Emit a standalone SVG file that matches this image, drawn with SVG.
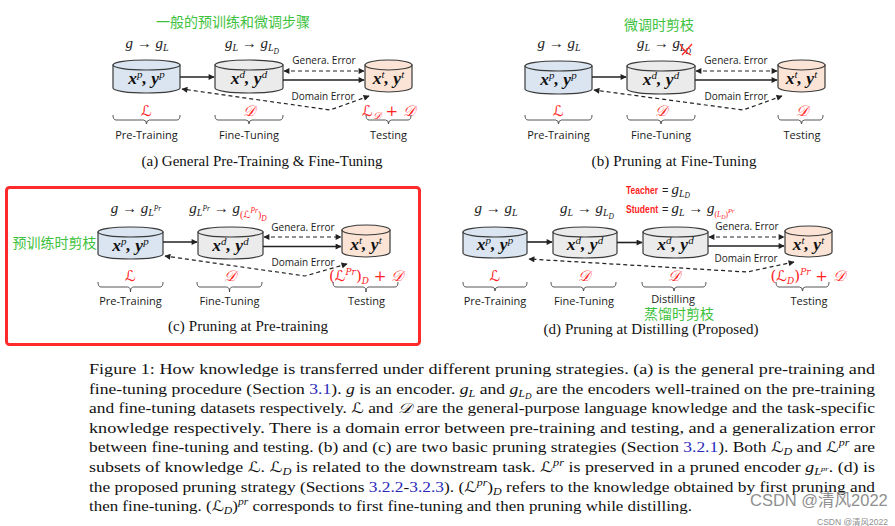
<svg xmlns="http://www.w3.org/2000/svg" width="895" height="526" viewBox="0 0 895 526">
<defs>
<style>
.zh{font-family:"Noto Sans CJK SC","Noto Sans",sans-serif;font-size:14px;fill:#3ec23e}
.lab{font-family:"Open Sans","Liberation Sans",sans-serif;font-size:11px;fill:#1a1a1a;text-anchor:middle}
.err{font-family:"Open Sans","Liberation Sans",sans-serif;font-size:10px;fill:#1a1a1a;text-anchor:middle}
.m{font-family:"Liberation Serif",serif;font-style:italic;font-size:15px;fill:#222}
.sb{font-size:10px}
.sbb{font-size:7.5px}
.cyt{font-family:"Liberation Serif",serif;font-weight:bold;font-style:italic;font-size:17.5px;fill:#111;text-anchor:middle}
.cs{font-size:11px;font-weight:normal}
.red{fill:#ff2222}
.sc{font-family:"DejaVu Serif","DejaVu Sans",serif;font-style:italic}
.rl{font-family:"DejaVu Serif","DejaVu Sans",serif;font-style:italic;font-size:15px;fill:#ff2222;text-anchor:middle}
.up{font-style:normal}
.cap{font-family:"Liberation Serif",serif;font-size:15px;fill:#111;text-anchor:middle}
.par{font-family:"Liberation Serif",serif;font-size:14.5px;fill:#111}
.i{font-style:italic}
.lnk{fill:#2a2ab8}
.cyl{stroke:#3a3a3a;stroke-width:1.2}
.blue{fill:#dae5f1}
.grey{fill:#ebebeb}
.peach{fill:#fbe4d5}
.solid{stroke:#222;stroke-width:1.6;fill:none}
.dash{stroke:#222;stroke-width:1.2;stroke-dasharray:4 3;fill:none}
.brace{stroke:#444;stroke-width:0.9;fill:none}
.tb{font-family:"Liberation Sans",sans-serif;font-weight:bold;font-size:10px;fill:#ff2222}
.eq{font-family:"Liberation Sans",sans-serif;font-size:11px;fill:#222;font-style:normal}
.wm{font-family:"Liberation Sans","Noto Sans CJK SC",sans-serif;fill:#8f8f8f}
</style>
<marker id="ah" viewBox="0 0 10 10" refX="9" refY="5" markerWidth="7" markerHeight="6" markerUnits="userSpaceOnUse" orient="auto-start-reverse"><path d="M0,0 L10,5 L0,10 z" fill="#222"/></marker>
</defs>
<rect width="895" height="526" fill="#fff"/>

<!-- Panel (a) -->
<g id="panel-a">
  <text class="zh" x="233" y="27" text-anchor="middle">一般的预训练和微调步骤</text>
  <text class="m" x="147" y="48" text-anchor="middle">g → g<tspan class="sb" dy="3">L</tspan></text>
  <text class="m" x="252" y="48" text-anchor="middle">g<tspan class="sb" dy="3">L</tspan><tspan dy="-3"> → g</tspan><tspan class="sb" dy="3">L</tspan><tspan class="sbb" dy="2.5">D</tspan></text>
  <g id="a-pretrain">
    <path class="cyl blue" d="M113,65 V88 A33.5,5 0 0 0 180,88 V65 Z"/>
    <ellipse class="cyl blue" cx="146.5" cy="65" rx="33.5" ry="5"/>
    <text class="cyt" x="146.5" y="84">x<tspan class="cs" dy="-6">p</tspan><tspan dy="6">, y</tspan><tspan class="cs" dy="-6">p</tspan></text>
    <text class="rl" x="146.5" y="116">ℒ</text>
    <path class="brace" d="M113,115 Q113,120 116,120 H143.5 Q146.5,120 146.5,124 Q146.5,120 149.5,120 H177 Q180,120 180,115"/>
    <text class="lab" x="146.5" y="139">Pre-Training</text>
  </g>
  <g id="a-finetune">
    <path class="cyl grey" d="M215,65 V88 A34,5 0 0 0 283,88 V65 Z"/>
    <ellipse class="cyl grey" cx="249" cy="65" rx="34" ry="5"/>
    <text class="cyt" x="249" y="84">x<tspan class="cs" dy="-6">d</tspan><tspan dy="6">, y</tspan><tspan class="cs" dy="-6">d</tspan></text>
    <text class="rl" x="249" y="116">𝒟</text>
    <path class="brace" d="M215,115 Q215,120 218,120 H246 Q249,120 249,124 Q249,120 252,120 H280 Q283,120 283,115"/>
    <text class="lab" x="249" y="139">Fine-Tuning</text>
  </g>
  <g id="a-test">
    <path class="cyl peach" d="M365,65 V87 A23.5,5 0 0 0 412,87 V65 Z"/>
    <ellipse class="cyl peach" cx="388.5" cy="65" rx="23.5" ry="5"/>
    <text class="cyt" x="388.5" y="84">x<tspan class="cs" dy="-6">t</tspan><tspan dy="6">, y</tspan><tspan class="cs" dy="-6">t</tspan></text>
    <text class="rl" x="388.5" y="116">ℒ<tspan font-size="10" dy="3">𝒟</tspan><tspan dy="-3" class="up"> + </tspan>𝒟</text>
    <path class="brace" d="M366,115 Q366,120 369,120 H385.5 Q388.5,120 388.5,124 Q388.5,120 391.5,120 H408 Q411,120 411,115"/>
    <text class="lab" x="388.5" y="139">Testing</text>
  </g>
  <g id="a-connectors">
    <line class="solid" x1="180" y1="77" x2="214" y2="77" marker-end="url(#ah)"/>
    <line class="solid" x1="283" y1="80" x2="364" y2="80" marker-end="url(#ah)"/>
    <line class="dash" x1="284" y1="71" x2="364" y2="71" marker-start="url(#ah)" marker-end="url(#ah)"/>
    <polyline class="dash" points="369,96 330,110 182,89" marker-start="url(#ah)" marker-end="url(#ah)"/>
    <text class="err" x="324" y="64">Genera. Error</text>
    <text class="err" x="323" y="100">Domain Error</text>
  </g>
  <text class="cap" x="262" y="166" textLength="241">(a)  General Pre-Training &amp; Fine-Tuning</text>
</g>

<!-- Panel (b) -->
<g id="panel-b" transform="translate(412,0)">
  <text class="zh" x="247" y="30" text-anchor="middle">微调时剪枝</text>
  <text class="m" x="147" y="48" text-anchor="middle">g → g<tspan class="sb" dy="3">L</tspan></text>
  <text class="m" x="252" y="48" text-anchor="middle">g<tspan class="sb" dy="3">L</tspan><tspan dy="-3"> → g</tspan><tspan class="sb" dy="3">L</tspan><tspan class="sbb" dy="2.5">D</tspan></text>
  <path d="M268,44 Q272,52 279,55 M270,55 L280,44" stroke="#ff2222" stroke-width="1.2" fill="none"/>
  <g id="b-pretrain">
    <path class="cyl blue" d="M113,66 V89 A33.5,5 0 0 0 180,89 V66 Z"/>
    <ellipse class="cyl blue" cx="146.5" cy="66" rx="33.5" ry="5"/>
    <text class="cyt" x="146.5" y="85">x<tspan class="cs" dy="-6">p</tspan><tspan dy="6">, y</tspan><tspan class="cs" dy="-6">p</tspan></text>
    <text class="rl" x="146.5" y="116">ℒ</text>
    <path class="brace" d="M113,115 Q113,120 116,120 H143.5 Q146.5,120 146.5,124 Q146.5,120 149.5,120 H177 Q180,120 180,115"/>
    <text class="lab" x="146.5" y="139">Pre-Training</text>
  </g>
  <g id="b-finetune">
    <path class="cyl grey" d="M215,66 V89 A34,5 0 0 0 283,89 V66 Z"/>
    <ellipse class="cyl grey" cx="249" cy="66" rx="34" ry="5"/>
    <text class="cyt" x="249" y="85">x<tspan class="cs" dy="-6">d</tspan><tspan dy="6">, y</tspan><tspan class="cs" dy="-6">d</tspan></text>
    <text class="rl" x="249" y="116">𝒟</text>
    <path class="brace" d="M215,115 Q215,120 218,120 H246 Q249,120 249,124 Q249,120 252,120 H280 Q283,120 283,115"/>
    <text class="lab" x="249" y="139">Fine-Tuning</text>
  </g>
  <g id="b-test">
    <path class="cyl peach" d="M366,65 V87 A23.5,5 0 0 0 413,87 V65 Z"/>
    <ellipse class="cyl peach" cx="389.5" cy="65" rx="23.5" ry="5"/>
    <text class="cyt" x="389.5" y="84">x<tspan class="cs" dy="-6">t</tspan><tspan dy="6">, y</tspan><tspan class="cs" dy="-6">t</tspan></text>
    <text class="rl" x="389.5" y="116">𝒟</text>
    <path class="brace" d="M366,115 Q366,120 369,120 H386.5 Q389.5,120 389.5,124 Q389.5,120 392.5,120 H408 Q411,120 411,115"/>
    <text class="lab" x="390" y="139">Testing</text>
  </g>
  <g id="b-connectors">
    <line class="solid" x1="180" y1="77" x2="214" y2="77" marker-end="url(#ah)"/>
    <line class="solid" x1="283" y1="80" x2="365" y2="80" marker-end="url(#ah)"/>
    <line class="dash" x1="284" y1="71" x2="365" y2="71" marker-start="url(#ah)" marker-end="url(#ah)"/>
    <polyline class="dash" points="370,96 331,110 182,90" marker-start="url(#ah)" marker-end="url(#ah)"/>
    <text class="err" x="324" y="64">Genera. Error</text>
    <text class="err" x="324" y="100">Domain Error</text>
  </g>
  <text class="cap" x="262" y="166" textLength="165">(b)  Pruning at Fine-Tuning</text>
</g>

<!-- Panel (c) -->
<g id="panel-c">
  <rect x="6.5" y="187.5" width="413" height="157" rx="3" fill="none" stroke="#ff2a2a" stroke-width="3"/>
  <text class="zh" x="54.5" y="248" text-anchor="middle" font-size="13.5">预训练时剪枝</text>
  <text class="m" x="136" y="213" text-anchor="middle">g → g<tspan class="sb" dy="3">L</tspan><tspan class="sbb" dy="-5">Pr</tspan></text>
  <text class="m" x="228" y="213" text-anchor="middle">g<tspan class="sb" dy="3">L</tspan><tspan class="sbb" dy="-5">Pr</tspan><tspan dy="2"> → g</tspan><tspan class="red sb" dy="5" font-style="normal">(</tspan><tspan class="red sb sc">ℒ</tspan><tspan class="red sbb" dy="-5">Pr</tspan><tspan class="red sb" dy="5" font-style="normal">)</tspan><tspan class="red sbb" dy="3">D</tspan></text>
  <g id="c-pretrain">
    <path class="cyl blue" d="M98,232 V254 A32.5,5 0 0 0 163,254 V232 Z"/>
    <ellipse class="cyl blue" cx="130.5" cy="232" rx="32.5" ry="5"/>
    <text class="cyt" x="130.5" y="251">x<tspan class="cs" dy="-6">p</tspan><tspan dy="6">, y</tspan><tspan class="cs" dy="-6">p</tspan></text>
    <text class="rl" x="130.5" y="281">ℒ</text>
    <path class="brace" d="M98,282 Q98,287 101,287 H127.5 Q130.5,287 130.5,292 Q130.5,287 133.5,287 H160 Q163,287 163,282"/>
    <text class="lab" x="130.5" y="305">Pre-Training</text>
  </g>
  <g id="c-finetune">
    <path class="cyl grey" d="M198,232 V254 A32.5,5 0 0 0 263,254 V232 Z"/>
    <ellipse class="cyl grey" cx="230.5" cy="232" rx="32.5" ry="5"/>
    <text class="cyt" x="230.5" y="251">x<tspan class="cs" dy="-6">d</tspan><tspan dy="6">, y</tspan><tspan class="cs" dy="-6">d</tspan></text>
    <text class="rl" x="230" y="281">𝒟</text>
    <path class="brace" d="M197,282 Q197,287 200,287 H226.5 Q229.5,287 229.5,292 Q229.5,287 232.5,287 H259 Q262,287 262,282"/>
    <text class="lab" x="229.5" y="305">Fine-Tuning</text>
  </g>
  <g id="c-test">
    <path class="cyl peach" d="M342,230 V252 A24,5 0 0 0 390,252 V230 Z"/>
    <ellipse class="cyl peach" cx="366" cy="230" rx="24" ry="5"/>
    <text class="cyt" x="366" y="250">x<tspan class="cs" dy="-6">t</tspan><tspan dy="6">, y</tspan><tspan class="cs" dy="-6">t</tspan></text>
    <text class="rl" x="366" y="281"><tspan class="up">(</tspan>ℒ<tspan font-size="9" dy="-6">Pr</tspan><tspan dy="6" class="up">)</tspan><tspan font-size="9" dy="3">D</tspan><tspan dy="-3" class="up"> + </tspan>𝒟</text>
    <path class="brace" d="M333,282 Q333,287 336,287 H363 Q366,287 366,292 Q366,287 369,287 H395 Q398,287 398,282"/>
    <text class="lab" x="366.5" y="305">Testing</text>
  </g>
  <g id="c-connectors">
    <line class="solid" x1="163" y1="242" x2="197" y2="242" marker-end="url(#ah)"/>
    <line class="solid" x1="263" y1="246.5" x2="341" y2="246.5" marker-end="url(#ah)"/>
    <line class="dash" x1="264" y1="237" x2="341" y2="237" marker-start="url(#ah)" marker-end="url(#ah)"/>
    <polyline class="dash" points="347,264 305,276 165,256" marker-start="url(#ah)" marker-end="url(#ah)"/>
    <text class="err" x="303" y="231">Genera. Error</text>
    <text class="err" x="303" y="266">Domain Error</text>
  </g>
  <text class="cap" x="248" y="331" textLength="160">(c)  Pruning at Pre-training</text>
</g>

<!-- Panel (d) -->
<g id="panel-d">
  <text class="tb" x="626" y="194" textLength="32" lengthAdjust="spacingAndGlyphs">Teacher</text>
  <text class="m" x="662" y="194"><tspan class="eq">= </tspan>g<tspan class="sb" dy="2.5">L</tspan><tspan class="sbb" dy="1.5">D</tspan></text>
  <text class="tb" x="626" y="213" textLength="32" lengthAdjust="spacingAndGlyphs">Student</text>
  <text class="m" x="662" y="213"><tspan class="eq">= </tspan>g<tspan class="sb" dy="3">L</tspan><tspan dy="-3"> → g</tspan><tspan class="red sbb" dy="4" font-style="normal">(</tspan><tspan class="red sbb">L</tspan><tspan class="red" font-size="6" dy="2">D</tspan><tspan class="red sbb" dy="-2" font-style="normal">)</tspan><tspan class="red" font-size="6.5" dy="-4">Pr</tspan></text>
  <text class="m" x="496" y="213" text-anchor="middle">g → g<tspan class="sb" dy="3">L</tspan></text>
  <text class="m" x="587" y="213" text-anchor="middle">g<tspan class="sb" dy="3">L</tspan><tspan dy="-3"> → g</tspan><tspan class="sb" dy="3">L</tspan><tspan class="sbb" dy="2.5">D</tspan></text>
  <g id="d-pretrain">
    <path class="cyl blue" d="M463,232 V253 A32,5 0 0 0 527,253 V232 Z"/>
    <ellipse class="cyl blue" cx="495" cy="232" rx="32" ry="5"/>
    <text class="cyt" x="495" y="250">x<tspan class="cs" dy="-6">p</tspan><tspan dy="6">, y</tspan><tspan class="cs" dy="-6">p</tspan></text>
    <text class="rl" x="495" y="281">ℒ</text>
    <path class="brace" d="M463,282 Q463,287 466,287 H492 Q495,287 495,291 Q495,287 498,287 H524 Q527,287 527,282"/>
    <text class="lab" x="495" y="305">Pre-Training</text>
  </g>
  <g id="d-finetune">
    <path class="cyl grey" d="M553,232 V253 A32,5 0 0 0 617,253 V232 Z"/>
    <ellipse class="cyl grey" cx="585" cy="232" rx="32" ry="5"/>
    <text class="cyt" x="585" y="250">x<tspan class="cs" dy="-6">d</tspan><tspan dy="6">, y</tspan><tspan class="cs" dy="-6">d</tspan></text>
    <text class="rl" x="584" y="281">𝒟</text>
    <path class="brace" d="M551,282 Q551,287 554,287 H580.5 Q583.5,287 583.5,291 Q583.5,287 586.5,287 H613 Q616,287 616,282"/>
    <text class="lab" x="584" y="305">Fine-Tuning</text>
  </g>
  <g id="d-distill">
    <path class="cyl grey" d="M643,232 V253 A32.5,5 0 0 0 708,253 V232 Z"/>
    <ellipse class="cyl grey" cx="675.5" cy="232" rx="32.5" ry="5"/>
    <text class="cyt" x="675.5" y="250">x<tspan class="cs" dy="-6">d</tspan><tspan dy="6">, y</tspan><tspan class="cs" dy="-6">d</tspan></text>
    <text class="rl" x="674" y="281">𝒟</text>
    <path class="brace" d="M642,282 Q642,287 645,287 H671 Q674,287 674,291 Q674,287 677,287 H703 Q706,287 706,282"/>
    <text class="lab" x="673" y="303">Distilling</text>
    <text class="zh" x="679" y="319" text-anchor="middle" font-size="13">蒸馏时剪枝</text>
  </g>
  <g id="d-test">
    <path class="cyl peach" d="M785,231 V252 A23.5,5 0 0 0 832,252 V231 Z"/>
    <ellipse class="cyl peach" cx="808.5" cy="231" rx="23.5" ry="5"/>
    <text class="cyt" x="808.5" y="250">x<tspan class="cs" dy="-6">t</tspan><tspan dy="6">, y</tspan><tspan class="cs" dy="-6">t</tspan></text>
    <text class="rl" x="807.5" y="281"><tspan class="up">(</tspan>ℒ<tspan font-size="9" dy="3">D</tspan><tspan dy="-3" class="up">)</tspan><tspan font-size="9" dy="-6">Pr</tspan><tspan dy="6" class="up"> + </tspan>𝒟</text>
    <path class="brace" d="M776,282 Q776,287 779,287 H799.5 Q802.5,287 802.5,291 Q802.5,287 805.5,287 H826 Q829,287 829,282"/>
    <text class="lab" x="809" y="305">Testing</text>
  </g>
  <g id="d-connectors">
    <line class="solid" x1="527" y1="242" x2="552" y2="242" marker-end="url(#ah)"/>
    <line class="solid" x1="617" y1="242.5" x2="642" y2="242.5" marker-end="url(#ah)"/>
    <line class="solid" x1="708" y1="246" x2="784" y2="246" marker-end="url(#ah)"/>
    <line class="dash" x1="709" y1="237" x2="784" y2="237" marker-start="url(#ah)" marker-end="url(#ah)"/>
    <polyline class="dash" points="794,262 747,272 529,259" marker-start="url(#ah)" marker-end="url(#ah)"/>
    <text class="err" x="747" y="230">Genera. Error</text>
    <text class="err" x="746" y="262">Domain Error</text>
  </g>
  <text class="cap" x="651" y="334" textLength="215">(d)  Pruning at Distilling (Proposed)</text>
</g>

<!-- Caption paragraph -->
<g id="caption">
  <text class="par" x="89" y="374" textLength="786" lengthAdjust="spacingAndGlyphs">Figure 1: How knowledge is transferred under different pruning strategies.  (a) is the general pre-training and</text>
  <text class="par" x="89" y="393.6" textLength="786" lengthAdjust="spacingAndGlyphs">fine-tuning procedure (Section <tspan class="lnk">3.1</tspan>). <tspan class="i">g</tspan> is an encoder. <tspan class="i">g</tspan><tspan class="i" font-size="10" dy="3">L</tspan><tspan dy="-3"> and </tspan><tspan class="i">g</tspan><tspan class="i" font-size="10" dy="3">L</tspan><tspan class="i" font-size="7.5" dy="2">D</tspan><tspan dy="-5"> are the encoders well-trained on the pre-training</tspan></text>
  <text class="par" x="89" y="413.2" textLength="786" lengthAdjust="spacingAndGlyphs">and fine-tuning datasets respectively. <tspan class="sc">ℒ</tspan> and <tspan class="sc">𝒟</tspan> are the general-purpose language knowledge and the task-specific</text>
  <text class="par" x="89" y="432.8" textLength="786" lengthAdjust="spacingAndGlyphs">knowledge respectively.  There is a domain error between pre-training and testing, and a generalization error</text>
  <text class="par" x="89" y="452.4" textLength="786" lengthAdjust="spacingAndGlyphs">between fine-tuning and testing. (b) and (c) are two basic pruning strategies (Section <tspan class="lnk">3.2.1</tspan>). Both <tspan class="sc">ℒ</tspan><tspan class="i" font-size="10" dy="3">D</tspan><tspan dy="-3"> and </tspan><tspan class="sc">ℒ</tspan><tspan class="i" font-size="10" dy="-6">pr</tspan><tspan dy="6"> are</tspan></text>
  <text class="par" x="89" y="472" textLength="786" lengthAdjust="spacingAndGlyphs">subsets of knowledge <tspan class="sc">ℒ</tspan>. <tspan class="sc">ℒ</tspan><tspan class="i" font-size="10" dy="3">D</tspan><tspan dy="-3"> is related to the downstream task. </tspan><tspan class="sc">ℒ</tspan><tspan class="i" font-size="10" dy="-6">pr</tspan><tspan dy="6"> is preserved in a pruned encoder </tspan><tspan class="i">g</tspan><tspan class="i" font-size="10" dy="3">L</tspan><tspan class="i" font-size="7" dy="-4">pr</tspan><tspan dy="1">. (d) is</tspan></text>
  <text class="par" x="89" y="491.6" textLength="786" lengthAdjust="spacingAndGlyphs">the proposed pruning strategy (Sections <tspan class="lnk">3.2.2</tspan>-<tspan class="lnk">3.2.3</tspan>). (<tspan class="sc">ℒ</tspan><tspan class="i" font-size="10" dy="-6">pr</tspan><tspan dy="6">)</tspan><tspan class="i" font-size="10" dy="3">D</tspan><tspan dy="-3"> refers to the knowledge obtained by first pruning and</tspan></text>
  <text class="par" x="89" y="511.2" textLength="603" lengthAdjust="spacingAndGlyphs">then fine-tuning. (<tspan class="sc">ℒ</tspan><tspan class="i" font-size="10" dy="3">D</tspan><tspan dy="-3">)</tspan><tspan class="i" font-size="10" dy="-6">pr</tspan><tspan dy="6"> corresponds to first fine-tuning and then pruning while distilling.</tspan></text>
</g>

<g id="watermark">
  <text class="wm" x="750" y="506" font-size="16.5">CSDN @清风2022</text>
  <text class="wm" x="817" y="525" font-size="8.5" fill="#b0b0b0">CSDN @清风2022</text>
</g>
</svg>
